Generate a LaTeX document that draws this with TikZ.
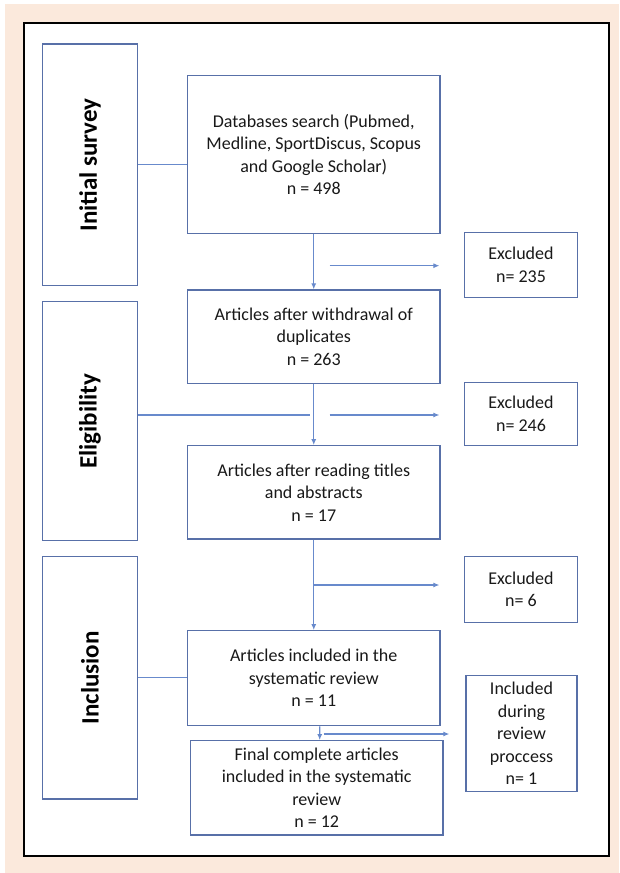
\documentclass[tikz,border=0pt]{standalone}
\usepackage{fontspec}
\setmainfont{Carlito}
\usetikzlibrary{arrows.meta}
\definecolor{prfpaper}{RGB}{251,233,220}
\definecolor{prfedge}{RGB}{88,112,168}
\definecolor{prfline}{RGB}{104,138,204}
\definecolor{prftext}{RGB}{25,25,25}
\tikzset{
 prf box/.style={draw=prfedge,line width=1.4pt,fill=white,align=center,
                 text=prftext,inner sep=2pt,font=\fontsize{18}{22.5}\selectfont},
 prf stage/.style={draw=prfedge,line width=1.4pt,fill=white,minimum width=94.8pt,
                   text=black,font=\fontsize{25}{30}\selectfont\bfseries},
 prf line/.style={draw=prfline,line width=1.1pt},
 prf arrow/.style={prf line,-{Latex[length=6pt,width=5pt]}}
}

\begin{document}
\begin{tikzpicture}[x=1pt,y=-1pt]
 \useasboundingbox (0,0) rectangle (619,873);
 \fill[prfpaper] (5,4) rectangle (619,873);
 \draw[line width=2pt,fill=white] (23.5,23.3) rectangle (609,856);
 % stages
 \node[prf stage,minimum height=241.7pt] (survey) at (90,164.9)
   {\rotatebox{90}{Initial survey}};
 \node[prf stage,minimum height=239pt] (elig) at (90,421.2)
   {\rotatebox{90}{Eligibility}};
 \node[prf stage,minimum height=242.3pt] (incl) at (90,677.9)
   {\rotatebox{90}{Inclusion}};
 % main column
 \node[prf box,minimum width=252.5pt,minimum height=157.6pt] (search) at (313.75,154.5)
   {Databases search (Pubmed,\\Medline, SportDiscus, Scopus\\and Google Scholar)\\n = 498};
 \node[prf box,minimum width=252.5pt,minimum height=93.3pt] (dupl) at (313.75,336.7)
   {Articles after withdrawal of\\duplicates\\n = 263};
 \node[prf box,minimum width=252.5pt,minimum height=93.3pt] (titles) at (313.75,492.4)
   {Articles after reading titles\\and abstracts\\n = 17};
 \node[prf box,minimum width=252.5pt,minimum height=95pt] (incsr) at (313.75,678.2)
   {Articles included in the\\systematic review\\n = 11};
 \node[prf box,minimum width=252.7pt,minimum height=94.3pt] (final) at (316.7,787.9)
   {Final complete articles\\included in the systematic\\review\\n = 12};
 % side boxes
 \node[prf box,minimum width=112.5pt,minimum height=65.4pt] (exc1) at (521,265)
   {Excluded\\n= 235};
 \node[prf box,minimum width=112.5pt,minimum height=63.4pt] (exc2) at (521,414)
   {Excluded\\n= 246};
 \node[prf box,minimum width=112.5pt,minimum height=65.6pt] (exc3) at (521,589.5)
   {Excluded\\n= 6};
 \node[prf box,minimum width=111.3pt,minimum height=116pt] (during) at (521.5,733.7)
   {Included\\during\\review\\proccess\\n= 1};
 % free ends of the side arrows
 \coordinate (e1a) at (329.6,265.7);
 \coordinate (e1b) at (439.4,265.7);
 \coordinate (e2g) at (310,415);
 \coordinate (e2a) at (329.6,415);
 \coordinate (e2b) at (439.4,415);
 \coordinate (e3b) at (439.4,585);
 \coordinate (e4a) at (323.7,734);
 \coordinate (e4b) at (449.3,734);
 % connectors
 \draw[prf line] (survey.east) -- (survey.east -| search.west);
 \draw[prf line] (incl.east) -- (incl.east -| incsr.west);
 \draw[prf line] (elig.east |- e2g) -- (e2g);
 \draw[prf arrow] (search.south) -- (dupl.north);
 \draw[prf arrow] (dupl.south) -- (titles.north);
 \draw[prf arrow] (titles.south) -- (incsr.north);
 \draw[prf arrow] ([xshift=6pt]incsr.south) -- ([xshift=3pt]final.north);
 \draw[prf arrow] (e1a) -- (e1b);
 \draw[prf arrow] (e2a) -- (e2b);
 \draw[prf arrow] (titles.south |- e3b) -- (e3b);
 \draw[prf arrow] (e4a) -- (e4b);
\end{tikzpicture}
\end{document}
